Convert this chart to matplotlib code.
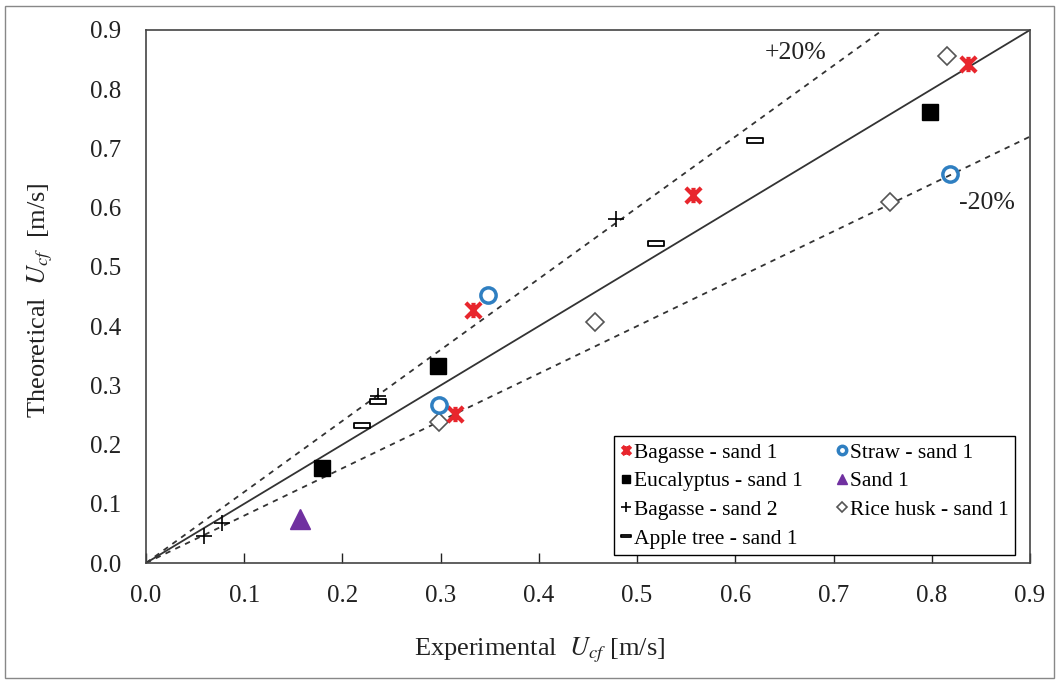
import matplotlib
matplotlib.use("Agg")
import matplotlib.pyplot as plt
from matplotlib.path import Path
from matplotlib.patches import Rectangle

plt.rcParams['font.family'] = ['Liberation Serif', 'DejaVu Serif']
plt.rcParams['mathtext.fontset'] = 'stix'

# data
bagasse1_x = [0.333, 0.315, 0.557, 0.837]
bagasse1_y = [0.428, 0.252, 0.622, 0.843]
straw_x = [0.348, 0.298, 0.819]
straw_y = [0.453, 0.267, 0.657]
eucalyptus_x = [0.179, 0.297, 0.798]
eucalyptus_y = [0.160, 0.333, 0.762]
bagasse2_x = [0.059, 0.077, 0.236, 0.479]
bagasse2_y = [0.046, 0.068, 0.282, 0.581]
apple_x = [0.220, 0.236, 0.519, 0.620]
apple_y = [0.233, 0.273, 0.541, 0.715]
sand_x = [0.157]
sand_y = [0.075]
rice_x = [0.298, 0.457, 0.757, 0.816]
rice_y = [0.238, 0.407, 0.610, 0.856]

ticks = [0.0, 0.1, 0.2, 0.3, 0.4, 0.5, 0.6, 0.7, 0.8, 0.9]

# custom markers: X with vertical bar, and flat hollow bar
star_marker = Path([(-1, -1), (1, 1), (-1, 1), (1, -1), (0, -1), (0, 1)],
                   [Path.MOVETO, Path.LINETO, Path.MOVETO, Path.LINETO, Path.MOVETO, Path.LINETO])
bar_marker = Path([(-1, -0.3), (1, -0.3), (1, 0.3), (-1, 0.3), (-1, -0.3)],
                  [Path.MOVETO, Path.LINETO, Path.LINETO, Path.LINETO, Path.CLOSEPOLY])

fig = plt.figure(figsize=(10.59, 6.84), dpi=100)
ax = fig.add_axes([146/1059, 1-563/684, 884/1059, 533/684])

line_col = '#333333'
txt_col = '#222222'
ax.plot([0, 0.9], [0, 0.9], color=line_col, lw=1.3, zorder=1)
ax.plot([0, 0.75], [0, 0.9], color=line_col, lw=1.3, ls=(0, (3, 3)), zorder=1)
ax.plot([0, 0.9], [0, 0.72], color=line_col, lw=1.3, ls=(0, (3, 3)), zorder=1)

ax.plot(bagasse1_x, bagasse1_y, ls='none', marker=star_marker, ms=11, mew=3,
        color='#e8262d', label='Bagasse - sand 1', zorder=3)
ax.plot(eucalyptus_x, eucalyptus_y, ls='none', marker='s', ms=11,
        color='black', label='Eucalyptus - sand 1', zorder=3)
ax.plot(bagasse2_x, bagasse2_y, ls='none', marker='+', ms=12, mew=1.2,
        color='black', label='Bagasse - sand 2', zorder=3)
ax.plot(apple_x, apple_y, ls='none', marker=bar_marker, ms=12, mew=1.3,
        mfc='white', mec='black', label='Apple tree - sand 1', zorder=3)
ax.plot(straw_x, straw_y, ls='none', marker='o', ms=11, mew=2.5,
        mfc='none', mec='#2f7fc1', label='Straw - sand 1', zorder=3)
ax.plot(sand_x, sand_y, ls='none', marker='^', ms=14,
        color='#7030a0', label='Sand 1', zorder=3)
ax.plot(rice_x, rice_y, ls='none', marker='D', ms=9.5, mew=1.2,
        mfc='white', mec='#555555', label='Rice husk - sand 1', zorder=2)

ax.text(0.661, 0.861, '+20%', fontsize=18.5, ha='center', va='center', color=txt_col)
ax.text(0.856, 0.608, '-20%', fontsize=18.5, ha='center', va='center', color=txt_col)

ax.set_xlim(0, 0.9)
ax.set_ylim(0, 0.9)
ax.set_xticks(ticks)
ax.set_yticks(ticks)
ax.set_xticklabels([f'{t:.1f}' for t in ticks])
ax.set_yticklabels([f'{t:.1f}' for t in ticks])
ax.tick_params(axis='x', direction='in', length=7, width=1, pad=16, labelsize=18, colors=txt_col)
ax.tick_params(axis='y', length=0, pad=18, labelsize=18, colors=txt_col)
for s in ax.spines.values():
    s.set_color('#444444')
    s.set_linewidth(1.2)

leg = ax.legend(ncol=2, loc='lower right', bbox_to_anchor=(0.983, 0.015), borderaxespad=0,
                prop={'family': 'Liberation Serif', 'size': 15.5},
                markerscale=0.55, handlelength=0.5, handletextpad=0.1,
                columnspacing=1.6, labelspacing=0.4, borderpad=0.3,
                fancybox=False, framealpha=1, edgecolor='black')
leg.get_frame().set_linewidth(1.0)

fig.text(540/1059, 1-650/684, r'Experimental  $U_{cf}$ [m/s]', fontsize=19,
         ha='center', va='center', color=txt_col)
fig.text(40/1059, 1-300/684, r'Theoretical  $U_{cf}$  [m/s]', fontsize=19,
         ha='center', va='center', rotation=90, color=txt_col)

fig.patches.append(Rectangle((5/1059, 6/684), 1049/1059, 672/684, transform=fig.transFigure,
                             fill=False, edgecolor='#888888', lw=1))

fig.savefig('out.png', dpi=100)
